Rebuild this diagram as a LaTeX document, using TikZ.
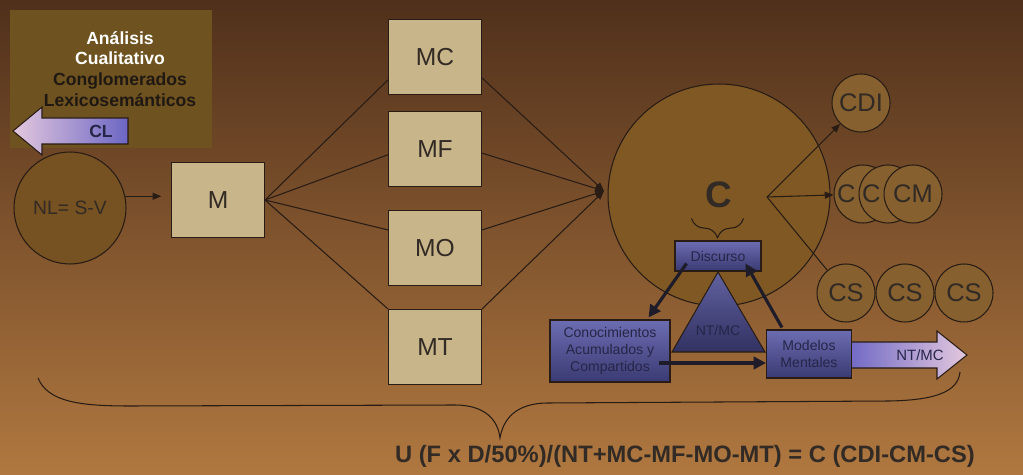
\documentclass[tikz,border=0pt]{standalone}
\usepackage{fontspec}
\setmainfont{Liberation Sans}
\usetikzlibrary{positioning,arrows.meta,calc,decorations.pathreplacing}

\definecolor{bgtop}{RGB}{80,48,27}
\definecolor{bgmid}{RGB}{142,90,45}
\definecolor{bgbot}{RGB}{176,120,64}
\definecolor{panel}{RGB}{110,82,32}
\definecolor{olivecirc}{RGB}{128,88,36}
\definecolor{beige}{RGB}{200,181,138}
\definecolor{inkdark}{RGB}{50,42,36}
\definecolor{inkblack}{RGB}{32,24,18}
\definecolor{linecol}{RGB}{40,28,20}
\definecolor{bluetop}{RGB}{108,108,178}
\definecolor{bluebot}{RGB}{58,58,115}
\definecolor{bluetxt}{RGB}{38,38,72}
\definecolor{pinklight}{RGB}{228,200,222}
\definecolor{bluemid}{RGB}{108,102,196}
\definecolor{arrowdark}{RGB}{30,28,40}

\begin{document}
\begin{tikzpicture}[x=0.02cm, y=-0.02cm,
    % beige model boxes (M, MC, MF, MO, MT)
    mbox/.style={draw=linecol, line width=0.6pt, fill=beige, minimum width=1.86cm, minimum height=1.5cm, inner sep=0pt, text=inkdark, font=\fontsize{14}{16}\selectfont},
    % olive circles
    nlcirc/.style={circle, draw=linecol, line width=0.6pt, fill=olivecirc!92!black, minimum size=2.24cm, inner sep=0pt, text=inkdark, font=\fontsize{11}{13}\selectfont},
    bigcirc/.style={circle, draw=linecol, line width=0.6pt, fill=olivecirc, minimum size=4.44cm, inner sep=0pt, text=inkdark, font=\fontsize{21}{24}\selectfont\bfseries},
    smallcirc/.style={circle, draw=linecol, line width=0.6pt, fill=olivecirc!95!white, minimum size=1.16cm, inner sep=0pt, text=inkdark, font=\fontsize{14.5}{16}\selectfont},
    partcirc/.style={smallcirc, label={[text=inkdark, font=\fontsize{14.5}{16}\selectfont, xshift=-9.5pt]center:C}},
    % blue text boxes
    bluebox/.style={draw=linecol, line width=0.6pt, top color=bluetop, bottom color=bluebot, inner sep=0pt, align=center, text=bluetxt, font=\fontsize{8}{9.5}\selectfont},
    bluetext/.style={text=bluetxt, font=\fontsize{8.5}{10}\selectfont},
    paneltxt/.style={align=center, font=\fontsize{10}{11.8}\selectfont\bfseries, text=inkblack},
    % connectors
    thin/.style={draw=linecol, line width=0.6pt},
    arr/.style={thin, -{Triangle[length=5pt,width=4pt]}},
    thickarr/.style={draw=arrowdark, line width=1.8pt, -{Triangle[length=7pt,width=7pt]}}
]

% background
\shade[top color=bgtop, middle color=bgmid, bottom color=bgbot] (0,0) rectangle (1023,475);
\useasboundingbox (0,0) rectangle (1023,475);

% analysis panel with CL arrow
\fill[panel] (10,10) rectangle (212,148);
\node[paneltxt] (analisis) at (120,69) {\textcolor{white}{Análisis}\\\textcolor{white}{Cualitativo}\\Conglomerados\\Lexicosemánticos};
\shade[left color=pinklight, right color=bluemid, draw=linecol, line width=0.6pt]
  (128,118) -- (42,118) -- (42,107) -- (13,131) -- (42,155) -- (42,144) -- (128,144) -- cycle;
\node[text=bluetxt, font=\fontsize{10}{12}\selectfont\bfseries] (cl) at (101,131) {CL};

% NL and M
\node[nlcirc] (NL) at (70,208) {NL= S-V};
\node[mbox] (M) at (218,200) {M};
\draw[arr, shorten >=5.5pt] (NL.12) -- (NL.12 -| M.west);

% the four model boxes
\foreach \n/\y in {MC/57, MF/149, MO/248, MT/347}
  \node[mbox] (\n) at (435,\y) {\n};

% C circle
\node[bigcirc] (C) at (719,195) {C};

% fan out from M, fan in to C
\coordinate (Cin) at (604,191);
\foreach \n/\a/\b in {MC/206/336, MF/187/355, MO/159/21, MT/north west/north east} {
  \draw[thin] (M.east) -- (\n.\a);
  \draw[arr] (\n.\b) -- (Cin);
}

% discourse triangle
\shade[top color=bluetop!90!black, bottom color=bluebot!85!black, draw=linecol, line width=0.6pt]
  (718,272) -- (765,352) -- (672,352) -- cycle;
\node[bluetext, font=\fontsize{8}{9.5}\selectfont] (ntmc) at (718,330) {NT/MC};

\node[bluebox, minimum width=1.72cm, minimum height=0.6cm] (disc) at (718,256) {Discurso};
\node[bluebox, minimum width=2.4cm, minimum height=1.24cm] (cono) at (610,351) {Conocimientos\\Acumulados y\\Compartidos};

% outgoing NT/MC arrow
\shade[left color=bluemid, right color=pinklight, draw=linecol, line width=0.6pt]
  (845,342) -- (937,342) -- (937,331) -- (967,355) -- (937,379) -- (937,368) -- (845,368) -- cycle;
\node[bluetext] (ntmcout) at (920,355) {NT/MC};
\node[bluebox, minimum width=1.7cm, minimum height=0.96cm] (mod) at (809,354) {Modelos\\Mentales};

% brace from C down to Discurso
\draw[thin, decorate, decoration={brace, mirror, amplitude=11pt}]
  ($(disc.north west)+(17,-22)$) -- ($(disc.north east)+(-18,-22)$);

% thick arrows round the triangle
\draw[thickarr] ($(disc.south west)+(12,-8)$) -- ($(cono.north east)+(-22,-2)$);
\draw[thickarr] ($(mod.north west)+(16,-2)$) -- ($(disc.south east)+(-16,-8)$);
\draw[thickarr] ($(cono.east)+(-12,12)$) -- ($(mod.west)+(0,9)$);

% results of C
\coordinate (Cout) at (767,197);
\node[smallcirc] (CDI) at (861,103) {CDI};
\node[partcirc] (cm1) at (863,194) {};
\node[partcirc] (cm2) at (888,194) {};
\node[smallcirc] (CM) at (913,194) {CM};
\foreach \x [count=\i] in {846,905,964}
  \node[smallcirc] (CS\i) at (\x,293) {CS};

\draw[arr] (Cout) -- (CDI);
\draw[arr] (Cout) -- (cm1);
\draw[thin] (Cout) -- (CS1);

% bottom brace
\draw[thin] (38,378) .. controls (48,402) and (80,406) .. (130,406) -- (455,405)
  .. controls (485,405) and (498,420) .. (500,438)
  .. controls (503,420) and (515,403) .. (548,403) -- (890,401)
  .. controls (935,400) and (958,392) .. (960,372);

% formula
\node[text=inkdark, font=\fontsize{13.5}{15}\selectfont\bfseries] (formula) at (685,456) {U (F x D/50\%)/(NT+MC-MF-MO-MT) = C (CDI-CM-CS)};

\end{tikzpicture}
\end{document}
